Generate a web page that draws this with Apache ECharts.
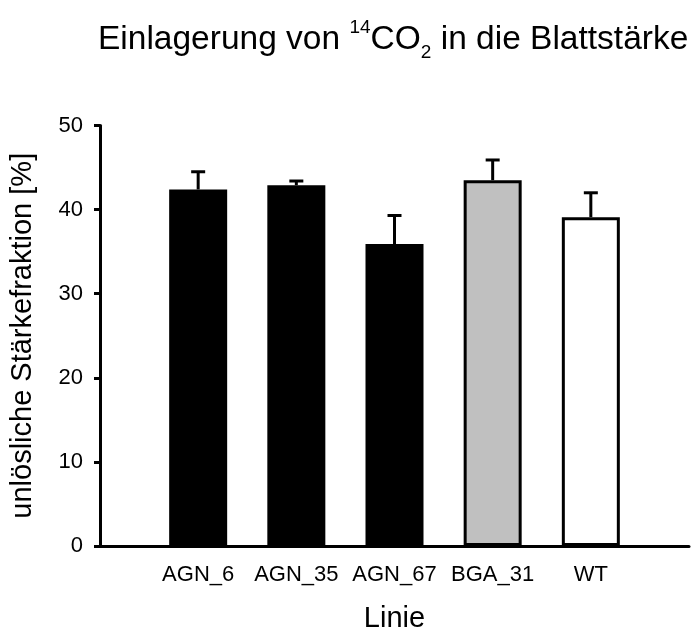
<!DOCTYPE html>
<html>
<head>
<meta charset="utf-8">
<script src="https://cdn.jsdelivr.net/npm/echarts@6/dist/echarts.min.js"></script>
<style>html,body{margin:0;padding:0;background:#fff}#c{width:692px;height:638px}</style>
</head>
<body>
<div id="c"></div>
<script>
// Data
const categories = ['AGN_6', 'AGN_35', 'AGN_67', 'BGA_31', 'WT'];
const categoryPositions = [1, 2, 3, 4, 5];
const values = [42.4, 42.9, 35.9, 43.5, 39.1];
const errors = [2.1, 0.5, 3.4, 2.4, 2.9];
const yTicks = [0, 10, 20, 30, 40, 50];

const barColors = ['#000000', '#000000', '#000000', '#c0c0c0', '#ffffff'];
const FONT = 'Liberation Sans, Arial, sans-serif';

const chart = echarts.init(document.getElementById('c'), null, { renderer: 'canvas' });

const barData = categoryPositions.map((x, i) => ({
  value: [x, values[i]],
  itemStyle: { color: barColors[i], borderColor: '#000', borderWidth: 3 }
}));
const errData = categoryPositions.map((x, i) => [x, values[i], values[i] + errors[i]]);

chart.setOption({
  animation: false,
  backgroundColor: '#fff',
  title: {
    text: '{t|Einlagerung von }{sup|14}{t|CO}{sub|2}{t| in die Blattstärke}',
    left: 93,
    top: 13,
    textStyle: {
      fontWeight: 'normal',
      rich: {
        t: { fontSize: 33.5, fontFamily: FONT, fontWeight: 'normal', color: '#000', lineHeight: 42, verticalAlign: 'middle' },
        sup: { fontSize: 19, fontFamily: FONT, fontWeight: 'normal', color: '#000', lineHeight: 42, verticalAlign: 'top' },
        sub: { fontSize: 19, fontFamily: FONT, fontWeight: 'normal', color: '#000', lineHeight: 44, verticalAlign: 'bottom' }
      }
    }
  },
  grid: { left: 97, right: 2, top: 125.5, bottom: 85, containLabel: false },
  xAxis: {
    type: 'value',
    min: 0,
    max: 6,
    interval: 1,
    name: 'Linie',
    nameLocation: 'middle',
    nameGap: 58,
    nameTextStyle: { fontSize: 29, fontFamily: FONT, color: '#000' },
    axisLine: { show: true, onZero: false, lineStyle: { color: '#000', width: 3 } },
    axisTick: { show: false },
    splitLine: { show: false },
    axisLabel: {
      fontSize: 22, fontFamily: FONT, color: '#000', margin: 18,
      showMinLabel: true, showMaxLabel: true,
      formatter: (v) => {
        const idx = categoryPositions.indexOf(v);
        return idx >= 0 ? categories[idx] : '';
      }
    }
  },
  yAxis: {
    type: 'value',
    min: yTicks[0],
    max: yTicks[yTicks.length - 1],
    interval: 10,
    name: 'unlösliche Stärkefraktion [%]',
    nameLocation: 'middle',
    nameGap: 63,
    nameTextStyle: { fontSize: 29, fontFamily: FONT, color: '#000' },
    axisLine: { show: true, lineStyle: { color: '#000', width: 3 } },
    axisTick: { show: true, inside: false, length: 6, lineStyle: { color: '#000', width: 3 } },
    splitLine: { show: false },
    axisLabel: { fontSize: 22, fontFamily: FONT, color: '#000', margin: 17 }
  },
  series: [
    {
      type: 'bar',
      data: barData,
      barWidth: 58,
      z: 2
    },
    {
      type: 'custom',
      data: errData,
      z: 3,
      renderItem: (params, api) => {
        const x = api.value(0);
        const base = api.coord([x, api.value(1)]);
        const top = api.coord([x, api.value(2)]);
        const half = 7;
        const style = { stroke: '#000', lineWidth: 3, fill: null };
        return {
          type: 'group',
          children: [
            { type: 'line', shape: { x1: base[0], y1: base[1], x2: top[0], y2: top[1] }, style },
            { type: 'line', shape: { x1: top[0] - half, y1: top[1], x2: top[0] + half, y2: top[1] }, style }
          ]
        };
      }
    }
  ]
});
</script>
</body>
</html>
